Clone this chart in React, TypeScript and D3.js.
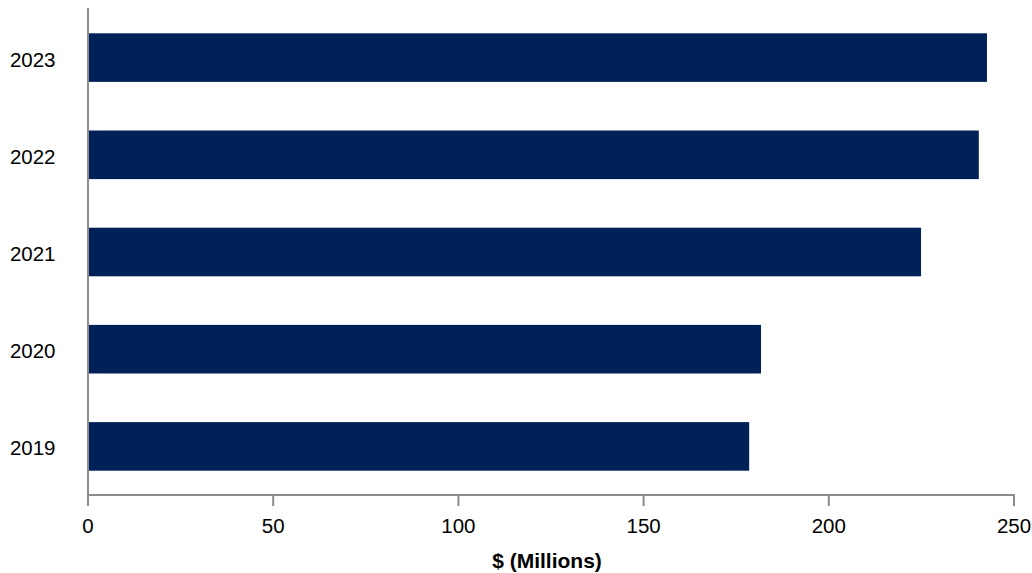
import React from "react";
import * as d3 from "d3";

const years = ["2023", "2022", "2021", "2020", "2019"];
const values = [242.7, 240.5, 224.9, 181.7, 178.5];
const xTicks = [0, 50, 100, 150, 200, 250];
const xTitle = "$ (Millions)";

const W = 1032;
const H = 573;
const left = 88;
const right = 1014;
const axisY = 495;
const top = 8;

export default function App() {
  const x = d3.scaleLinear().domain([0, 250]).range([left, right]);
  const y = d3
    .scaleBand<string>()
    .domain(years)
    .range([9, axisY])
    .paddingInner(0.5)
    .paddingOuter(0.25);
  const font = "Liberation Sans, Arial, sans-serif";
  return (
    <svg
      width={W}
      height={H}
      style={{ position: "absolute", left: 0, top: 0, background: "#fff" }}
    >
      {years.map((yr, i) => (
        <rect
          key={yr}
          x={x(0)}
          y={y(yr)}
          width={x(values[i]) - x(0)}
          height={y.bandwidth()}
          fill="#002157"
        />
      ))}
      <line x1={left} x2={left} y1={top} y2={axisY} stroke="#8c8c8c" strokeWidth={2} />
      <line x1={left - 1} x2={right + 1} y1={axisY} y2={axisY} stroke="#8c8c8c" strokeWidth={2} />
      {xTicks.map((t) => (
        <g key={t}>
          <line x1={x(t)} x2={x(t)} y1={axisY} y2={axisY + 11} stroke="#8c8c8c" strokeWidth={2} />
          <text
            x={x(t)}
            y={533}
            textAnchor="middle"
            fontFamily={font}
            fontSize={20.5}
            fill="#000"
          >
            {t}
          </text>
        </g>
      ))}
      {years.map((yr) => (
        <text
          key={yr}
          x={55.5}
          y={(y(yr) ?? 0) + y.bandwidth() / 2 + 9}
          textAnchor="end"
          fontFamily={font}
          fontSize={20.5}
          fill="#000"
        >
          {yr}
        </text>
      ))}
      <text
        x={(left + right) / 2 - 4}
        y={568}
        textAnchor="middle"
        fontFamily={font}
        fontSize={21}
        fontWeight="bold"
        fill="#000"
      >
        {xTitle}
      </text>
    </svg>
  );
}
